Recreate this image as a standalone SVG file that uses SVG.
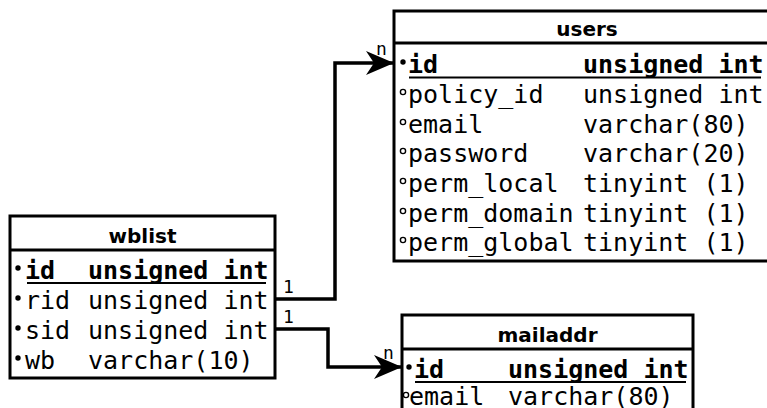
<svg xmlns="http://www.w3.org/2000/svg" width="767" height="408" viewBox="0 0 767 408">
<style>
.box{fill:#fff;stroke:#000;stroke-width:3}
.sep{stroke:#000;stroke-width:3}
.title{font-family:"DejaVu Sans",sans-serif;font-weight:bold;font-size:20px;text-anchor:middle;fill:#000}
.f{font-family:"DejaVu Sans Mono",monospace;font-size:25px;fill:#000}
.k{font-weight:bold}
.ul{stroke:#000;stroke-width:2}
.dot{fill:#000}
.opt{fill:none;stroke:#000;stroke-width:1.4}
.lbl{font-family:"DejaVu Sans Mono",monospace;font-size:18px;fill:#000}
.conn{fill:none;stroke:#000;stroke-width:3.5}
</style>
<defs>
<marker id="arr" viewBox="0 0 28 24" refX="27" refY="12" markerWidth="28" markerHeight="24" markerUnits="userSpaceOnUse" orient="auto">
<path d="M0,0 L28,12 L0,24 L8,12 Z" fill="#000"/>
</marker>
</defs>
<g id="connectors">
<polyline class="conn" points="275,299 335,299 335,63 393,63" marker-end="url(#arr)"/>
<polyline class="conn" points="275,329 328,329 328,367 401,367" marker-end="url(#arr)"/>
<text class="lbl" x="283" y="293">1</text>
<text class="lbl" x="283" y="323">1</text>
<text class="lbl" x="376" y="55">n</text>
<text class="lbl" x="383" y="359">n</text>
</g>
<g id="users">
<rect class="box" x="394" y="11" width="390" height="250"/>
<line class="sep" x1="394" y1="43" x2="784" y2="43"/>
<text class="title" x="587" y="36">users</text>
<circle class="dot" cx="403" cy="62" r="2.7"/>
<text class="f k" x="408" y="73">id</text>
<text class="f k" x="583" y="73">unsigned int</text>
<line class="ul" x1="409" y1="77.5" x2="761" y2="77.5"/>
<circle class="opt" cx="403" cy="92" r="2.6"/>
<text class="f" x="408" y="103">policy_id</text>
<text class="f" x="583" y="103">unsigned int</text>
<circle class="opt" cx="403" cy="122" r="2.6"/>
<text class="f" x="408" y="133">email</text>
<text class="f" x="583" y="133">varchar(80)</text>
<circle class="opt" cx="403" cy="151" r="2.6"/>
<text class="f" x="408" y="162">password</text>
<text class="f" x="583" y="162">varchar(20)</text>
<circle class="opt" cx="403" cy="181" r="2.6"/>
<text class="f" x="408" y="192">perm_local</text>
<text class="f" x="583" y="192">tinyint (1)</text>
<circle class="opt" cx="403" cy="211" r="2.6"/>
<text class="f" x="408" y="222">perm_domain</text>
<text class="f" x="583" y="222">tinyint (1)</text>
<circle class="opt" cx="403" cy="240" r="2.6"/>
<text class="f" x="408" y="251">perm_global</text>
<text class="f" x="583" y="251">tinyint (1)</text>
</g>
<g id="wblist">
<rect class="box" x="10" y="216" width="265" height="162"/>
<line class="sep" x1="10" y1="250" x2="275" y2="250"/>
<text class="title" x="142.5" y="243">wblist</text>
<circle class="dot" cx="18" cy="268" r="2.7"/>
<text class="f k" x="25" y="279">id</text>
<text class="f k" x="88" y="279">unsigned int</text>
<line class="ul" x1="27" y1="283" x2="266" y2="283"/>
<circle class="dot" cx="18" cy="298" r="2.7"/>
<text class="f" x="25" y="309">rid</text>
<text class="f" x="88" y="309">unsigned int</text>
<circle class="dot" cx="18" cy="328" r="2.7"/>
<text class="f" x="25" y="339">sid</text>
<text class="f" x="88" y="339">unsigned int</text>
<circle class="dot" cx="18" cy="358" r="2.7"/>
<text class="f" x="25" y="369">wb</text>
<text class="f" x="88" y="369">varchar(10)</text>
</g>
<g id="mailaddr">
<rect class="box" x="402" y="315" width="291" height="130"/>
<line class="sep" x1="402" y1="349" x2="693" y2="349"/>
<text class="title" x="547.5" y="342">mailaddr</text>
<circle class="dot" cx="409" cy="367" r="2.7"/>
<text class="f k" x="414" y="378">id</text>
<text class="f k" x="508" y="378">unsigned int</text>
<line class="ul" x1="415" y1="382" x2="686" y2="382"/>
<circle class="opt" cx="406" cy="395" r="2.6"/>
<text class="f" x="409" y="405">email</text>
<text class="f" x="508" y="405">varchar(80)</text>
</g>
</svg>
